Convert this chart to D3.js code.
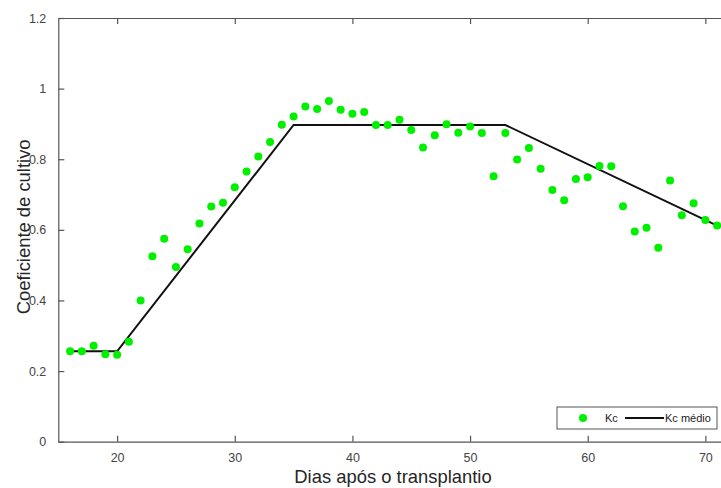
<!DOCTYPE html>
<html>
<head>
<meta charset="utf-8">
<script src="https://cdn.jsdelivr.net/npm/d3@7"></script>
<style>
body { margin: 0; background: #fff; }
svg { display: block; font-family: "Liberation Sans", Arial, sans-serif; }
.axis path, .axis line { stroke: #555; stroke-width: 1.2; }
.axis text { fill: #444; font-size: 12.5px; }
</style>
</head>
<body>
<div id="chart"></div>
<script>
const WIDTH = 721;
const HEIGHT = 488;

// observed Kc per day after transplant
const days = d3.range(16, 72);
const kc = [
	0.256, 0.256, 0.272, 0.248, 0.246, 0.283, 0.400, 0.525, 0.575, 0.495,
	0.545, 0.618, 0.666, 0.677, 0.721, 0.765, 0.808, 0.849, 0.898, 0.921,
	0.949, 0.942, 0.965, 0.940, 0.929, 0.934, 0.897, 0.897, 0.912, 0.883,
	0.833, 0.868, 0.899, 0.875, 0.893, 0.874, 0.752, 0.874, 0.799, 0.832,
	0.773, 0.713, 0.684, 0.744, 0.749, 0.781, 0.780, 0.667, 0.595, 0.606,
	0.549, 0.740, 0.641, 0.675, 0.628, 0.612
];

// mean Kc (piecewise line)
const meanDays = [16, 20, 35, 53, 71];
const meanKc = [0.256, 0.256, 0.897, 0.897, 0.612];

const xTicks = [20, 30, 40, 50, 60, 70];
const yTicks = [0, 0.2, 0.4, 0.6, 0.8, 1, 1.2];

const PLOT_LEFT = 58.3;
const PLOT_TOP = 18;
const PLOT_BOTTOM = 441.7;

const x = d3.scaleLinear().domain([15, 71.33]).range([PLOT_LEFT, WIDTH]);
const y = d3.scaleLinear().domain([0, 1.2]).range([PLOT_BOTTOM, PLOT_TOP]);

const svg = d3.select('#chart').append('svg')
	.attr('width', WIDTH)
	.attr('height', HEIGHT);

const fmt = d => (d === 0 || d === 1) ? String(d) : d3.format('.1f')(d);

svg.append('g')
	.attr('class', 'axis')
	.attr('transform', `translate(0, ${PLOT_BOTTOM})`)
	.call(d3.axisBottom(x).tickValues(xTicks).tickSizeInner(-6).tickSizeOuter(0).tickPadding(9))
	.call(g => g.selectAll('text').attr('dy', '0.9em'));

svg.append('g')
	.attr('class', 'axis')
	.attr('transform', `translate(0, ${PLOT_TOP})`)
	.call(d3.axisTop(x).tickValues(xTicks).tickSizeInner(-6).tickSizeOuter(0).tickFormat(''));

svg.append('g')
	.attr('class', 'axis')
	.attr('transform', `translate(${PLOT_LEFT}, 0)`)
	.call(d3.axisLeft(y).tickValues(yTicks).tickSizeInner(-6).tickSizeOuter(0).tickPadding(12).tickFormat(fmt));

const line = d3.line()
	.x((d, i) => x(meanDays[i]))
	.y(d => y(d));

svg.append('path')
	.datum(meanKc)
	.attr('d', line)
	.attr('fill', 'none')
	.attr('stroke', '#111')
	.attr('stroke-width', 2);

svg.append('g')
	.selectAll('circle')
	.data(kc)
	.join('circle')
	.attr('cx', (d, i) => x(days[i]))
	.attr('cy', d => y(d))
	.attr('r', 4)
	.attr('fill', '#00f000');

// axis titles
svg.append('text')
	.attr('x', 393)
	.attr('y', 483)
	.attr('text-anchor', 'middle')
	.attr('fill', '#262626')
	.style('font-size', '18.4px')
	.text('Dias após o transplantio');

svg.append('text')
	.attr('transform', `translate(29.5, ${(PLOT_TOP + PLOT_BOTTOM) / 2 - 3}) rotate(-90)`)
	.attr('text-anchor', 'middle')
	.attr('fill', '#262626')
	.style('font-size', '18.4px')
	.text('Coeficiente de cultivo');

// legend
const legend = svg.append('g').attr('transform', 'translate(557, 407)');
legend.append('rect')
	.attr('width', 160)
	.attr('height', 22)
	.attr('fill', '#fff')
	.attr('stroke', '#555')
	.attr('stroke-width', 1);
legend.append('circle')
	.attr('cx', 26)
	.attr('cy', 11)
	.attr('r', 4)
	.attr('fill', '#00f000');
legend.append('text')
	.attr('x', 48)
	.attr('y', 15)
	.attr('fill', '#222')
	.style('font-size', '11px')
	.text('Kc');
legend.append('line')
	.attr('x1', 68)
	.attr('x2', 107)
	.attr('y1', 11)
	.attr('y2', 11)
	.attr('stroke', '#111')
	.attr('stroke-width', 2);
legend.append('text')
	.attr('x', 108)
	.attr('y', 15)
	.attr('fill', '#222')
	.style('font-size', '11px')
	.text('Kc médio');
</script>
</body>
</html>
